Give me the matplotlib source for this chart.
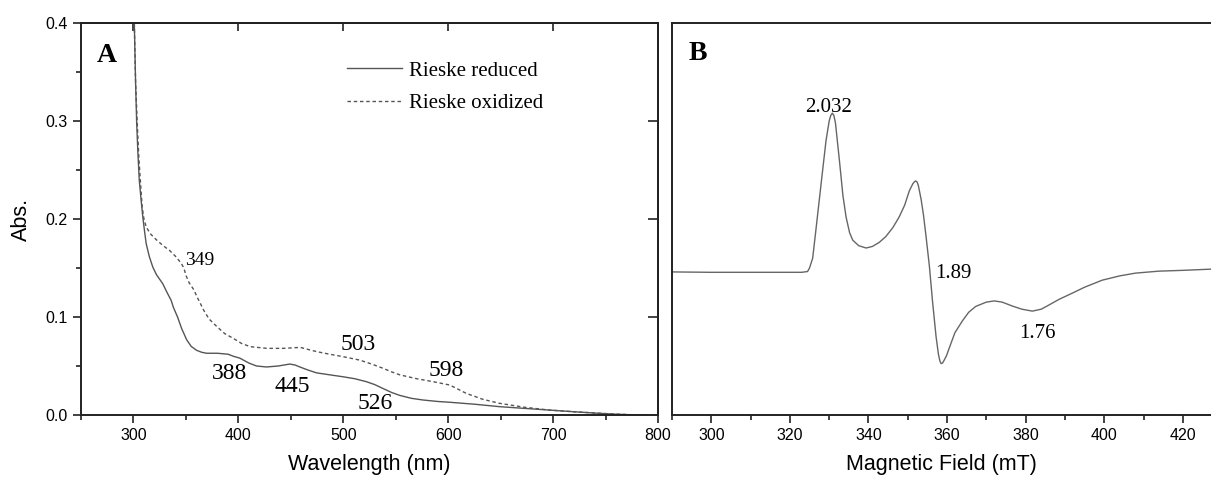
import matplotlib
matplotlib.use("Agg")
import matplotlib.pyplot as plt
from matplotlib.ticker import MultipleLocator

# ---- panel A: UV-vis spectra ----
wl_red = [300.8, 302, 303, 304.1, 305.5, 307.3, 308.9, 310.5, 312.1, 315, 318.4, 322,
          327.9, 332, 335.9, 338, 342, 346, 350.6, 355, 360.2, 365, 369.7, 380, 390.3,
          395, 401.4, 410, 417.3, 426.8, 438, 449, 454, 458.6, 466, 474.5, 487, 499.8,
          511, 522, 530, 537.9, 546, 553.8, 565, 576, 590, 601.4, 625, 649, 672, 696.7,
          720, 744, 760, 775, 790]
abs_red = [0.400, 0.340, 0.300, 0.270, 0.240, 0.219, 0.202, 0.188, 0.175, 0.162, 0.151,
           0.143, 0.134, 0.125, 0.117, 0.110, 0.100, 0.088, 0.077, 0.070, 0.066, 0.064,
           0.063, 0.063, 0.062, 0.060, 0.058, 0.053, 0.050, 0.049, 0.050, 0.052, 0.051,
           0.049, 0.046, 0.043, 0.041, 0.039, 0.037, 0.034, 0.031, 0.027, 0.023, 0.020,
           0.017, 0.0153, 0.0138, 0.013, 0.011, 0.0085, 0.0068, 0.005, 0.0033, 0.0017,
           0.0008, 0.0002, 0.0]

wl_ox = [300.8, 302, 303.5, 305, 306.5, 308.3, 310, 312.1, 316, 321.6, 328, 334.3, 340,
         345.4, 348, 350.2, 353, 357.4, 361.3, 366.9, 372, 379.7, 387, 395.5, 403, 411.4,
         427.3, 443, 459, 466, 474.9, 487, 500, 515.7, 527, 538, 546, 553.8, 570, 585.6,
         601.4, 610, 617.3, 633, 649, 672, 696.7, 720, 744, 760, 775, 790]
abs_ox = [0.400, 0.340, 0.300, 0.265, 0.240, 0.212, 0.200, 0.192, 0.185, 0.179, 0.173,
          0.168, 0.162, 0.155, 0.150, 0.142, 0.135, 0.128, 0.119, 0.107, 0.098, 0.090,
          0.083, 0.078, 0.073, 0.0697, 0.068, 0.068, 0.069, 0.067, 0.0646, 0.062, 0.0595,
          0.056, 0.052, 0.0476, 0.044, 0.041, 0.037, 0.034, 0.0306, 0.026, 0.022, 0.016,
          0.0119, 0.008, 0.005, 0.0033, 0.0018, 0.0009, 0.0003, 0.0]

# peak labels: (text, x, y, fontsize)
labels_a = [("349", 362.9, 0.158, 14), ("388", 391.9, 0.0425, 17), ("445", 451.6, 0.029, 17),
            ("526", 530.5, 0.012, 17), ("503", 514.1, 0.0724, 17), ("598", 598.4, 0.0452, 17)]

# ---- panel B: EPR spectrum (arbitrary intensity) ----
field = [290, 300, 310, 320, 323, 324.5, 325, 325.8, 326.6, 327.5, 328.4, 329.2, 330, 330.4,
         330.8, 331.2, 331.6, 332.6, 333.5, 334.3, 335.2, 336, 337.5, 339.4, 341, 342.7,
         344.4, 346.2, 347.8, 349.2, 350.4, 351.3, 351.7, 352, 352.4, 352.7, 353.4, 354,
         354.6, 355.5, 356.3, 357.2, 357.8, 358.2, 358.5, 358.9, 359.8, 360.6, 362, 363.9,
         365.5, 367.3, 370, 372, 374, 376.6, 379, 381.7, 384, 386, 388.5, 391.9, 395, 399.5,
         404, 408, 414, 420, 427, 430]
epr = [0.365, 0.364, 0.364, 0.364, 0.364, 0.366, 0.375, 0.40, 0.47, 0.55, 0.63, 0.70, 0.75,
       0.764, 0.770, 0.764, 0.745, 0.65, 0.56, 0.505, 0.465, 0.446, 0.432, 0.426, 0.43, 0.44,
       0.455, 0.478, 0.505, 0.535, 0.572, 0.590, 0.595, 0.597, 0.594, 0.585, 0.55, 0.51,
       0.46, 0.38, 0.29, 0.20, 0.155, 0.137, 0.131, 0.133, 0.15, 0.172, 0.21, 0.24, 0.262,
       0.277, 0.288, 0.291, 0.288, 0.278, 0.270, 0.265, 0.270, 0.281, 0.295, 0.311, 0.326,
       0.344, 0.355, 0.362, 0.367, 0.369, 0.372, 0.372]

labels_b = [("2.032", 329.8, 0.785), ("1.89", 361.7, 0.360), ("1.76", 383.0, 0.208)]

sans = "Liberation Sans"
serif = "Liberation Serif"
spine_c = "#222222"

fig = plt.figure(figsize=(12.11, 4.78), dpi=100)
axA = fig.add_axes([0.0669, 0.1318, 0.4765, 0.8201])
axB = fig.add_axes([0.5549, 0.1318, 0.4543, 0.8201])

for ax in (axA, axB):
    for s in ax.spines.values():
        s.set_linewidth(1.4)
        s.set_color(spine_c)

# panel A
axA.plot(wl_red, abs_red, color="#555555", lw=1.0, label="Rieske reduced")
axA.plot(wl_ox, abs_ox, color="#555555", lw=1.0, ls=(0, (2.5, 2)), label="Rieske oxidized")
axA.set_xlim(250, 800)
axA.set_ylim(0, 0.4)
axA.xaxis.set_major_locator(MultipleLocator(100))
axA.xaxis.set_minor_locator(MultipleLocator(50))
axA.yaxis.set_major_locator(MultipleLocator(0.1))
axA.yaxis.set_minor_locator(MultipleLocator(0.05))
axA.set_yticks([0.0, 0.1, 0.2, 0.3, 0.4])
axA.set_xticks([300, 400, 500, 600, 700, 800])
axA.tick_params(which="major", direction="out", length=5.5, width=1.2, color=spine_c,
                labelsize=11.5, pad=4)
axA.tick_params(which="minor", direction="out", length=3.5, width=1.2, color=spine_c)
for lab in axA.get_xticklabels() + axA.get_yticklabels():
    lab.set_fontfamily(sans)
axA.set_xlabel("Wavelength (nm)", fontsize=15.5, family=sans, labelpad=8)
axA.set_ylabel("Abs.", fontsize=15.5, family=sans, labelpad=10)

top = axA.secondary_xaxis("top")
top.set_xticks([300, 400, 500, 600, 700, 800])
top.set_xticklabels([])
top.tick_params(direction="in", length=6, width=1.2, color=spine_c)
right = axA.secondary_yaxis("right")
right.set_yticks([0.1, 0.2, 0.3])
right.set_yticklabels([])
right.tick_params(direction="in", length=7, width=1.2, color=spine_c)
for sec in (top, right):
    for s in sec.spines.values():
        s.set_linewidth(1.4)
        s.set_color(spine_c)

for txt, x, y, fs in labels_a:
    axA.text(x, y, txt, fontsize=fs, family=serif, ha="center", va="center")
axA.text(0.028, 0.918, "A", transform=axA.transAxes, fontsize=20, family=serif,
         fontweight="bold", ha="left", va="center")
axA.legend(loc="upper left", bbox_to_anchor=(0.461, 0.903), frameon=False,
           prop={"family": serif, "size": 15}, handlelength=2.65, handletextpad=0.34,
           labelspacing=0.62, borderpad=0, borderaxespad=0)

# panel B
axB.plot(field, epr, color="#666666", lw=1.0)
axB.set_xlim(290, 430)
axB.set_ylim(0, 1)
axB.xaxis.set_major_locator(MultipleLocator(20))
axB.xaxis.set_minor_locator(MultipleLocator(10))
axB.set_xticks([300, 320, 340, 360, 380, 400, 420])
axB.set_yticks([])
axB.tick_params(which="major", direction="out", length=5.5, width=1.2, color=spine_c,
                labelsize=11.5, pad=4)
axB.tick_params(which="minor", direction="out", length=3.5, width=1.2, color=spine_c)
for lab in axB.get_xticklabels():
    lab.set_fontfamily(sans)
axB.set_xlabel("Magnetic Field (mT)", fontsize=15.5, family=sans, labelpad=8)
axB.xaxis.set_label_coords((941 - 672) / 550, -0.1)
axB.xaxis.label.set_va("top")
for txt, x, y in labels_b:
    axB.text(x, y, txt, fontsize=15, family=serif, ha="center", va="center")
axB.text(0.0296, 0.923, "B", transform=axB.transAxes, fontsize=20, family=serif,
         fontweight="bold", ha="left", va="center")

fig.savefig("out.png", dpi=100)
